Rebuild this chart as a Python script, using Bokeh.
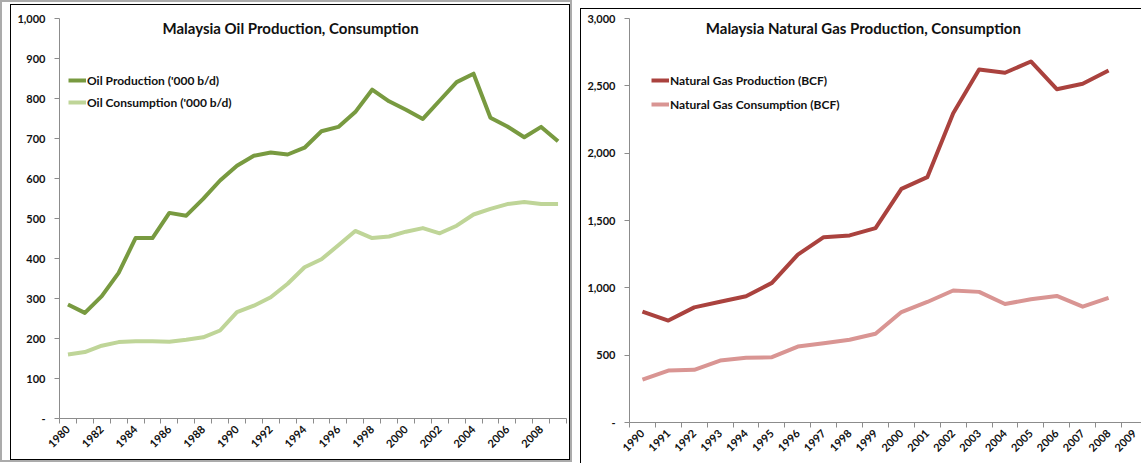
from math import pi
from bokeh.plotting import figure
from bokeh.layouts import row, column
from bokeh.models import (FixedTicker, NumeralTickFormatter, Legend, LegendItem,
                          Label, Range1d)
from bokeh.embed import file_html
from bokeh.resources import INLINE

# ---------------- data ----------------
oil_years = list(range(1980, 2010))
oil_production = [285, 264, 306, 364, 451, 451, 514, 507, 549, 595,
                  632, 657, 665, 660, 677, 718, 729, 766, 822, 793,
                  772, 749, 795, 841, 862, 752, 730, 703, 729, 693]
oil_consumption = [160, 166, 182, 191, 193, 193, 192, 197, 203, 220,
                   266, 282, 303, 337, 378, 398, 433, 469, 451, 455,
                   467, 476, 463, 482, 510, 524, 536, 541, 536, 536]
oil_label_years = list(range(1980, 2009, 2))
oil_yticks = list(range(0, 1001, 100))

gas_years = list(range(1990, 2009))
gas_axis_years = list(range(1990, 2010))
gas_production = [824, 757, 855, 897, 938, 1037, 1247, 1376, 1389, 1443,
                  1735, 1822, 2297, 2621, 2597, 2681, 2475, 2515, 2614]
gas_consumption = [319, 386, 391, 460, 480, 485, 564, 589, 614, 659,
                   820, 895, 980, 970, 880, 915, 940, 860, 925]
gas_yticks = list(range(0, 3001, 500))

FONT = "Lato"
TXT = "#111111"
AX = "#8c8c8c"


def style_axes(p, xticks, xminor, yticks):
    p.xgrid.visible = False
    p.ygrid.visible = False
    p.outline_line_color = None
    xa = p.xaxis[0]
    xa.ticker = FixedTicker(ticks=xticks, minor_ticks=xminor)
    xa.major_tick_out = 0
    xa.major_tick_in = 0
    xa.minor_tick_out = 5
    xa.minor_tick_in = 0
    xa.minor_tick_line_color = AX
    xa.axis_line_color = AX
    xa.major_label_orientation = pi / 4
    xa.major_label_standoff = 4
    xa.major_label_text_font = FONT
    xa.major_label_text_font_style = "bold"
    xa.major_label_text_font_size = "11px"
    xa.major_label_text_color = TXT
    ya = p.yaxis[0]
    ya.ticker = FixedTicker(ticks=yticks, minor_ticks=[])
    ya.formatter = NumeralTickFormatter(format="0,0")
    ya.major_label_overrides = {0: "-"}
    ya.major_tick_out = 5
    ya.major_tick_in = 0
    ya.minor_tick_out = 0
    ya.minor_tick_in = 0
    ya.major_tick_line_color = AX
    ya.axis_line_color = AX
    ya.major_label_standoff = 9
    ya.major_label_text_font = FONT
    ya.major_label_text_font_style = "bold"
    ya.major_label_text_font_size = "11px"
    ya.major_label_text_color = TXT


def make_legend(items, loc, spacing):
    lg = Legend(items=items, location=loc, padding=0, margin=0, spacing=spacing,
                glyph_width=18, glyph_height=20, label_standoff=1,
                border_line_alpha=0, background_fill_alpha=0,
                label_text_font=FONT, label_text_font_style="bold",
                label_text_font_size="12px", label_text_color=TXT)
    return lg


# ---------------- oil chart ----------------
p1 = figure(width=560, height=456, output_backend="svg", toolbar_location=None,
            x_range=Range1d(oil_years[0] - 0.5, oil_years[-1] + 0.5),
            y_range=Range1d(0, 1000),
            min_border_left=48, min_border_right=5, min_border_top=13,
            min_border_bottom=43)
p1.styles = {"border": "1px solid #000000"}
p1.margin = (2, 0, 0, 8)
style_axes(p1, oil_label_years, [y - 0.5 for y in oil_years] + [oil_years[-1] + 0.5],
           oil_yticks)
r1 = p1.line(oil_years, oil_production, line_width=4, color="#789A40", line_join="round")
r2 = p1.line(oil_years, oil_consumption, line_width=4, color="#BFD598", line_join="round")
p1.add_layout(make_legend([LegendItem(label="Oil Production ('000 b/d)", renderers=[r1]),
                           LegendItem(label="Oil Consumption ('000 b/d)", renderers=[r2])],
                          (9, 306), 2))
p1.add_layout(Label(x=1993.17, y=977, text="Malaysia Oil Production, Consumption",
                    text_align="center", text_baseline="middle", text_font=FONT,
                    text_font_style="bold", text_font_size="15px", text_color=TXT))
left_box = column(p1, styles={"border": "2px solid #ababab"})

# ---------------- gas chart ----------------
p2 = figure(width=575, height=455, output_backend="svg", toolbar_location=None,
            x_range=Range1d(gas_axis_years[0] - 0.5, 2009.85),
            y_range=Range1d(0, 3000),
            min_border_left=48, min_border_right=0, min_border_top=9,
            min_border_bottom=42)
p2.styles = {"border-left": "1px solid #000000", "border-top": "1px solid #000000"}
p2.margin = (8, 0, 0, 0)
style_axes(p2, gas_axis_years, [y - 0.5 for y in gas_axis_years] + [gas_axis_years[-1] + 0.5],
           gas_yticks)
r3 = p2.line(gas_years, gas_production, line_width=4, color="#AA423E", line_join="round")
r4 = p2.line(gas_years, gas_consumption, line_width=4, color="#D99593", line_join="round")
p2.add_layout(make_legend([LegendItem(label="Natural Gas Production (BCF)", renderers=[r3]),
                           LegendItem(label="Natural Gas Consumption (BCF)", renderers=[r4])],
                          (22, 308), 4))
p2.add_layout(Label(x=1998.53, y=2926, text="Malaysia Natural Gas Production, Consumption",
                    text_align="center", text_baseline="middle", text_font=FONT,
                    text_font_style="bold", text_font_size="15px", text_color=TXT))

layout = row(left_box, p2, spacing=8,
             styles={"max-width": "1141px", "overflow": "hidden"})
open("out.html", "w").write(file_html(layout, INLINE))
